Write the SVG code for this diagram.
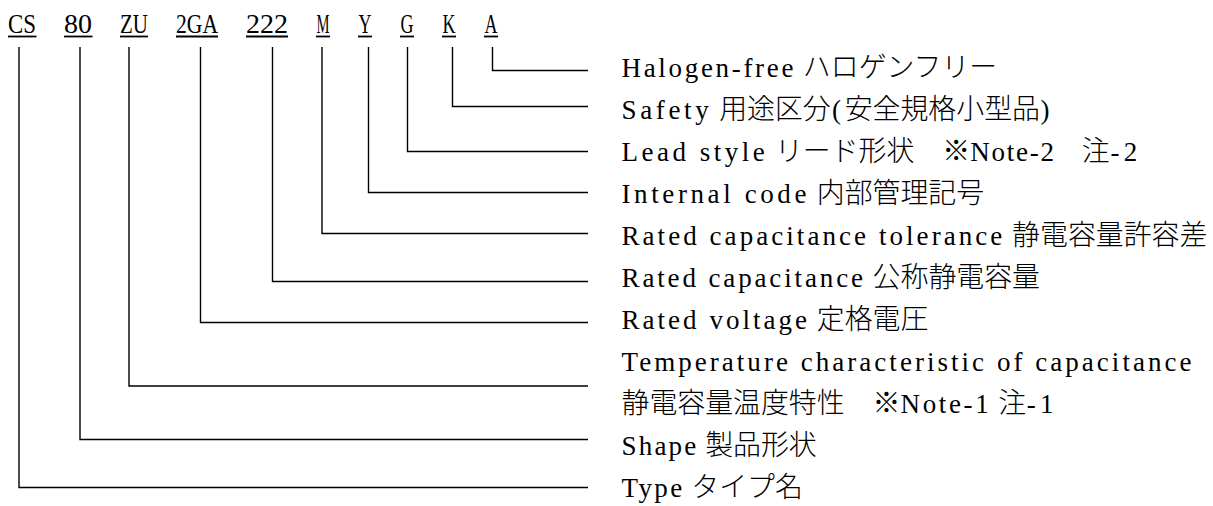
<svg xmlns="http://www.w3.org/2000/svg" width="1213" height="506" viewBox="0 0 1213 506">
<style>
  .t{font-family:"Liberation Serif","Noto Sans CJK JP",serif;font-size:27px;fill:#000}
  .j{font-family:"Noto Sans CJK JP","Liberation Serif",sans-serif;font-size:27.9px;font-weight:300}
  .ul{stroke:#000;stroke-width:1.8;fill:none}
  .c{stroke:#000;stroke-width:1.4;fill:none}
</style>
<rect width="1213" height="506" fill="#fff"/>
<g id="codes">
  <g id="code-CS"><text class="t" x="8" y="33" textLength="28" lengthAdjust="spacingAndGlyphs">CS</text><line class="ul" x1="8" y1="36.5" x2="36.5" y2="36.5"/></g>
  <g id="code-80"><text class="t" x="64" y="33" textLength="28" lengthAdjust="spacingAndGlyphs">80</text><line class="ul" x1="64" y1="36.5" x2="92.5" y2="36.5"/></g>
  <g id="code-ZU"><text class="t" x="120" y="33" textLength="28" lengthAdjust="spacingAndGlyphs">ZU</text><line class="ul" x1="120" y1="36.5" x2="148" y2="36.5"/></g>
  <g id="code-2GA"><text class="t" x="176" y="33" textLength="42" lengthAdjust="spacingAndGlyphs">2GA</text><line class="ul" x1="176" y1="36.5" x2="218" y2="36.5"/></g>
  <g id="code-222"><text class="t" x="246" y="33" textLength="42" lengthAdjust="spacingAndGlyphs">222</text><line class="ul" x1="246" y1="36.5" x2="288" y2="36.5"/></g>
  <g id="code-M"><text class="t" x="316.5" y="33" textLength="13" lengthAdjust="spacingAndGlyphs">M</text><line class="ul" x1="316" y1="36.5" x2="330" y2="36.5"/></g>
  <g id="code-Y"><text class="t" x="358.5" y="33" textLength="13" lengthAdjust="spacingAndGlyphs">Y</text><line class="ul" x1="358" y1="36.5" x2="372" y2="36.5"/></g>
  <g id="code-G"><text class="t" x="400.5" y="33" textLength="13" lengthAdjust="spacingAndGlyphs">G</text><line class="ul" x1="400" y1="36.5" x2="414" y2="36.5"/></g>
  <g id="code-K"><text class="t" x="442.5" y="33" textLength="13" lengthAdjust="spacingAndGlyphs">K</text><line class="ul" x1="442" y1="36.5" x2="456" y2="36.5"/></g>
  <g id="code-A"><text class="t" x="484.5" y="33" textLength="13" lengthAdjust="spacingAndGlyphs">A</text><line class="ul" x1="484" y1="36.5" x2="498" y2="36.5"/></g>
</g>
<g id="connectors">
  <polyline class="c" points="492.5,47 492.5,70.5 588,70.5"/>
  <polyline class="c" points="452.5,47 452.5,106.5 588,106.5"/>
  <polyline class="c" points="407.5,47 407.5,151.5 588,151.5"/>
  <polyline class="c" points="368.5,47 368.5,192.5 588,192.5"/>
  <polyline class="c" points="322,47 322,233.5 588,233.5"/>
  <polyline class="c" points="272.5,47 272.5,281.5 588,281.5"/>
  <polyline class="c" points="200.5,47 200.5,322.5 588,322.5"/>
  <polyline class="c" points="129,47 129,386 588,386"/>
  <polyline class="c" points="80,47 80,439.5 588,439.5"/>
  <polyline class="c" points="19,47 19,487.5 588,487.5"/>
</g>
<g id="descriptions">
  <g id="desc-A"><text class="t" y="77"><tspan x="621.5" textLength="181.35" lengthAdjust="spacing">Halogen-free </tspan><tspan class="j" x="802.85">ハロゲンフリー</tspan></text></g>
  <g id="desc-K"><text class="t" y="119"><tspan x="621.5" textLength="97.65" lengthAdjust="spacing">Safety </tspan><tspan class="j" x="719.15">用途区分</tspan><tspan x="832">(</tspan><tspan class="j" x="844.7">安全規格小型品</tspan><tspan x="1040.5">)</tspan></text></g>
  <g id="desc-G"><text class="t" y="161"><tspan x="621.5" textLength="153.45" lengthAdjust="spacing">Lead style </tspan><tspan class="j" x="774.95">リード形状　※</tspan><tspan x="970.25" textLength="83.7" lengthAdjust="spacing">Note-2</tspan><tspan class="j" x="1053.95">　注</tspan><tspan x="1110.5 1123.7">-2</tspan></text></g>
  <g id="desc-Y"><text class="t" y="203"><tspan x="621.5" textLength="195.3" lengthAdjust="spacing">Internal code </tspan><tspan class="j" x="816.8">内部管理記号</tspan></text></g>
  <g id="desc-M"><text class="t" y="245"><tspan x="621.5" textLength="390.6" lengthAdjust="spacing">Rated capacitance tolerance </tspan><tspan class="j" x="1012.1">静電容量許容差</tspan></text></g>
  <g id="desc-222"><text class="t" y="287"><tspan x="621.5" textLength="251.1" lengthAdjust="spacing">Rated capacitance </tspan><tspan class="j" x="872.6">公称静電容量</tspan></text></g>
  <g id="desc-2GA"><text class="t" y="329"><tspan x="621.5" textLength="195.3" lengthAdjust="spacing">Rated voltage </tspan><tspan class="j" x="816.8">定格電圧</tspan></text></g>
  <g id="desc-ZU">
    <text class="t" x="621.5" y="371" textLength="570" lengthAdjust="spacing">Temperature characteristic of capacitance</text>
    <text class="t" y="413"><tspan class="j" x="621.5">静電容量温度特性　※</tspan><tspan x="900.5" textLength="97.65" lengthAdjust="spacing">Note-1 </tspan><tspan class="j" x="998.15">注</tspan><tspan x="1026.8 1040">-1</tspan></text>
  </g>
  <g id="desc-80"><text class="t" y="455"><tspan x="621.5" textLength="83.7" lengthAdjust="spacing">Shape </tspan><tspan class="j" x="705.2">製品形状</tspan></text></g>
  <g id="desc-CS"><text class="t" y="497"><tspan x="621.5" textLength="69.75" lengthAdjust="spacing">Type </tspan><tspan class="j" x="691.25">タイプ名</tspan></text></g>
</g>
</svg>
